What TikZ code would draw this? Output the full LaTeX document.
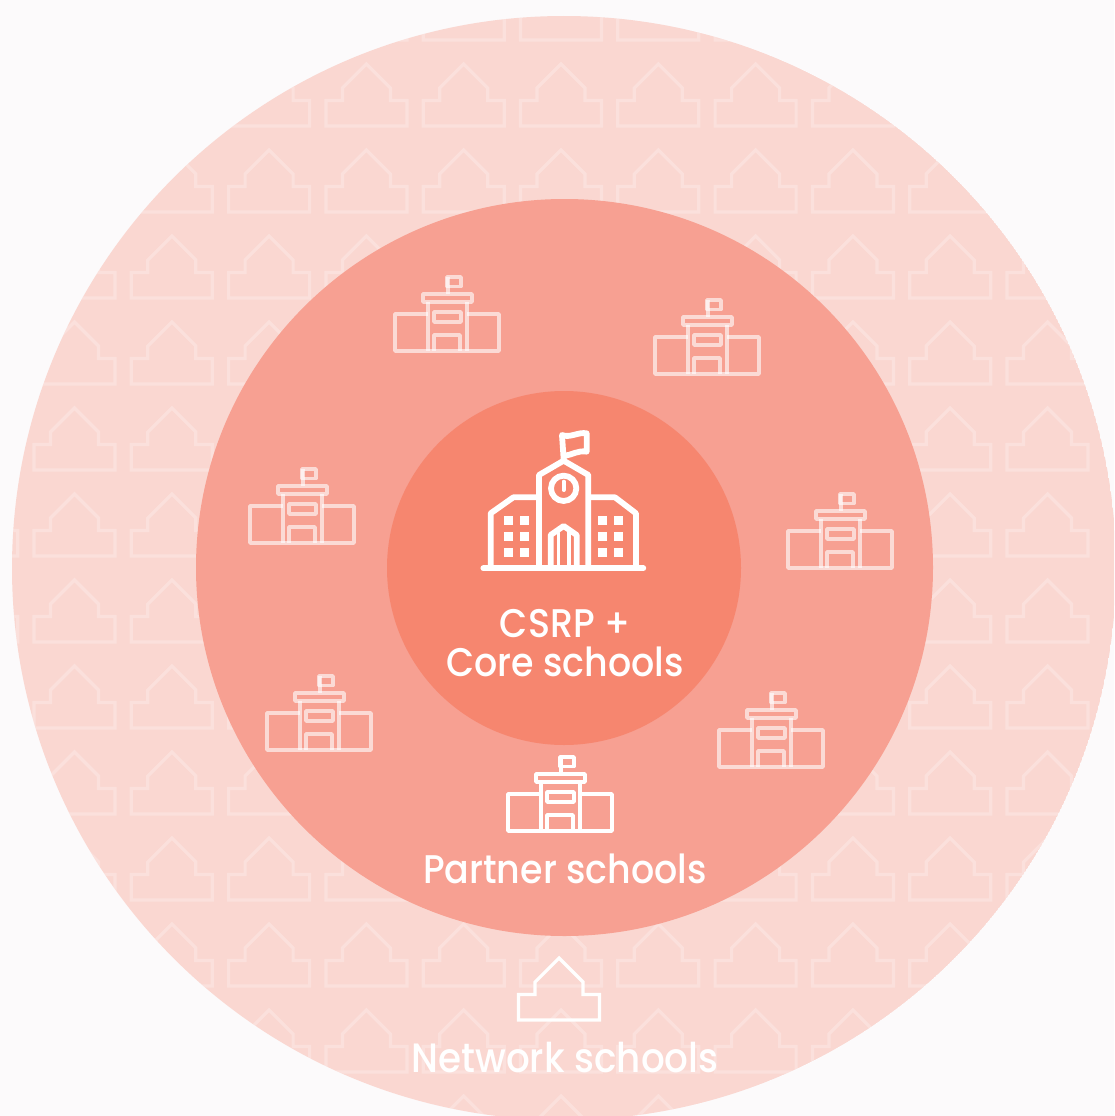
\documentclass[tikz,border=0pt]{standalone}
\usepackage{fontspec}
\newfontfamily\lab[FakeStretch=0.91]{Poppins Medium}
\definecolor{bgc}{HTML}{FCFAFB}
\definecolor{outerc}{HTML}{FAD7D1}
\definecolor{midc}{HTML}{F7A092}
\definecolor{innerc}{HTML}{F6866F}
\tikzset{
  netline/.style={line width=3.2pt,line join=miter},
  netschool/.pic={
    \draw[netline,pic actions] (0,0) -- (24,24) -- (24,36.5) -- (40.5,36.5) -- (40.5,62) -- (-40.5,62) -- (-40.5,36.5) -- (-24,36.5) -- (-24,24) -- cycle;
  },
  partnerschool/.pic={
    \begin{scope}[line width=3.6pt,pic actions,line join=round]
    \draw (-19,-38) -- (-52,-38) -- (-52,-1) -- (52,-1) -- (52,-38) -- (20,-38);
    \draw (-19,-1) -- (-19,-50) (20,-50) -- (20,-1);
    \draw (-24,-50) rectangle (25,-58);
    \draw (1,-58) -- (1,-75);
    \draw (0,-75) rectangle (14,-65.5);
    \draw (-13,-30) rectangle (14,-40);
    \draw (-13,-1) -- (-13,-17) -- (13,-17) -- (13,-1);
    \end{scope}
  },
  labeltext/.style={text=white,font=\lab\fontsize{40}{40}\selectfont,inner sep=0pt,anchor=base}
}
\begin{document}
\begin{tikzpicture}[x=1pt,y=-1pt]
\useasboundingbox (0,0) rectangle (1114,1116);
\clip (0,0) rectangle (1114,1116);
\fill[bgc] (0,0) rectangle (1114,1116);
\begin{scope}
  \clip (564,568) circle[radius=552];
  \fill[outerc] (564,568) circle[radius=552];
  \foreach \r in {-1,...,12}{
    \foreach \c in {-6,...,5}{
      \path (561+97.3*\c,64+86*\r) pic[draw=white,draw opacity=.24] {netschool};
    }
  }
\end{scope}
\fill[midc] (564.5,567.5) circle[radius=368.5];
\fill[innerc] (564,568) circle[radius=177];
% network icon + label
\path (559,958) pic[draw=white] {netschool};
\node[labeltext,font=\lab\fontsize{41}{41}\selectfont] (network) at (565,1072) {Network schools};
% partner icons
\foreach \x/\y in {447/352,707/375,302/544,840/569,319/751,771/768}{
  \path (\x,\y) pic[draw=white,draw opacity=.62] {partnerschool};
}
\path (560,832) pic[draw=white] {partnerschool};
\node[labeltext] (partner) at (565,883) {Partner schools};
% core icon
\begin{scope}[shift={(470,420)},x=0.3333pt,y=-0.3333pt,white,line width=5.8pt,line cap=round,line join=round]
  \draw (40,445) -- (520,445);
  \draw (207,440) -- (207,165) -- (281,122) -- (355,165) -- (355,440);
  \draw (205,232) -- (130,232) -- (62,280) -- (62,440);
  \draw (358,232) -- (435,232) -- (498,280) -- (498,440);
  \draw (281,205) circle[radius=38];
  \draw[line width=4pt] (281,185) -- (281,210);
  \draw (242,440) -- (242,345) -- (281,318) -- (320,345) -- (320,440);
  \draw[line width=3.6pt] (265,338) -- (265,440) (297,338) -- (297,440);
  \foreach \wx in {101,149,385,433}{
    \foreach \wy in {289,335,383}{
      \fill[white] (\wx,\wy) rectangle ++(27,27);
    }
  }
  \draw (281,118) -- (276,45) .. controls (300,55) and (325,35) .. (350,40) -- (350,95) .. controls (325,90) and (305,105) .. (282,108);
\end{scope}
\node[labeltext] (csrp) at (565,637) {CSRP +};
\node[labeltext] (core) at (565,676) {Core schools};
\end{tikzpicture}
\end{document}
